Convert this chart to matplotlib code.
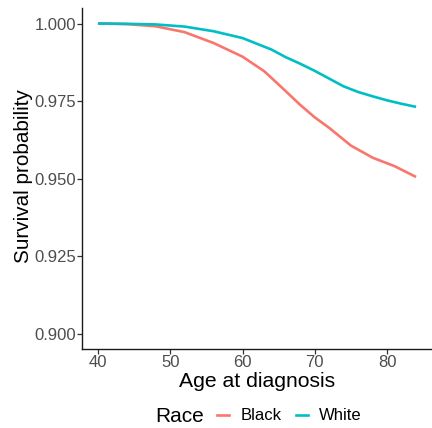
import matplotlib.pyplot as plt
from matplotlib.lines import Line2D

plt.rcParams['font.family'] = ['Liberation Sans', 'DejaVu Sans']

# predicted survival by age at diagnosis
black_age = [40, 44, 48, 52, 56, 60, 63, 65, 68, 70, 72, 75, 78, 81, 84]
black_surv = [1.0000, 0.9998, 0.9991, 0.9972, 0.9937, 0.9893, 0.9846, 0.9803,
              0.9737, 0.9697, 0.9663, 0.9606, 0.9567, 0.9540, 0.9505]

white_age = [40, 44, 48, 52, 56, 60, 64, 66, 68, 70, 72, 74, 76, 78, 80, 82, 84]
white_surv = [1.0000, 0.9999, 0.9997, 0.9990, 0.9975, 0.9953, 0.9916, 0.9891,
              0.9870, 0.9847, 0.9822, 0.9797, 0.9779, 0.9765, 0.9752, 0.9741, 0.9731]

x_ticks = [40, 50, 60, 70, 80]
y_ticks = [0.900, 0.925, 0.950, 0.975, 1.000]

col_black = '#F8766D'
col_white = '#00BFC4'

fig = plt.figure(figsize=(4.32, 4.28), dpi=100)
ax = fig.add_axes([82 / 432, 1 - 349 / 428, 1 - 82 / 432, (349 - 8) / 428])

ax.plot(black_age, black_surv, color=col_black, lw=1.9, solid_capstyle='butt')
ax.plot(white_age, white_surv, color=col_white, lw=1.9, solid_capstyle='butt')

ax.set_xlim(37.8, 86.2)
ax.set_ylim(0.895, 1.005)
ax.set_xticks(x_ticks)
ax.set_yticks(y_ticks)
ax.set_yticklabels([f'{v:.3f}' for v in y_ticks])

for side in ['top', 'right']:
    ax.spines[side].set_visible(False)
for side in ['left', 'bottom']:
    ax.spines[side].set_linewidth(1.0)
    ax.spines[side].set_color('#1a1a1a')

ax.tick_params(axis='both', length=3.5, width=0.9, color='#333333',
               labelsize=12.0, labelcolor='#4D4D4D', pad=1.0)

ax.set_xlabel('Age at diagnosis', fontsize=15.2, labelpad=1)
ax.set_ylabel('Survival probability', fontsize=14.9)
ax.yaxis.set_label_coords((33 - 82) / 350, (349 - 176.5) / 341)

# legend along the bottom
fig.text(179.5 / 432, 1 - 417 / 428, 'Race', fontsize=15, ha='center', va='center')
handles = [Line2D([], [], color=col_black, lw=1.9),
           Line2D([], [], color=col_white, lw=1.9)]
fig.legend(handles, ['Black', 'White'], ncol=2, frameon=False,
           loc='center left', bbox_to_anchor=(217 / 432, 1 - 416 / 428),
           fontsize=12, handlelength=0.72, handletextpad=0.7,
           columnspacing=0.84, borderaxespad=0, borderpad=0)

fig.savefig('out.png', dpi=100)
